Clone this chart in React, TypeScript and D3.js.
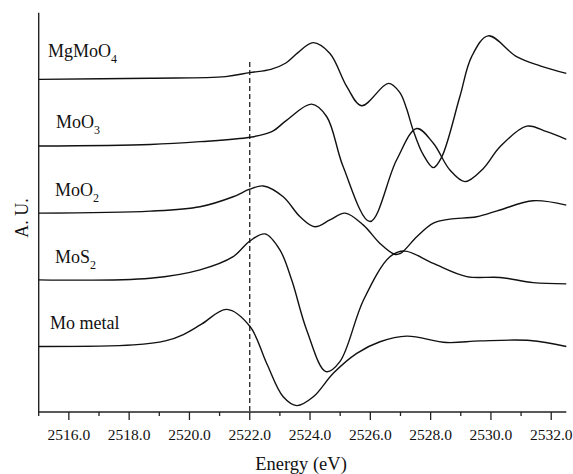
import React, { useEffect, useRef } from "react";
import * as d3 from "d3";

// Energy (eV) / intensity (A.U., offset stacked)
const mgMoO4Energy = [2515.0, 2518.7, 2521.2, 2522.0, 2522.7, 2523.2, 2523.6, 2524.1, 2524.66, 2525.22, 2525.71, 2526.6, 2526.98, 2527.2, 2527.42, 2527.75, 2528.09, 2528.37, 2528.97, 2529.36, 2529.91, 2530.85, 2531.63, 2532.5];
const mgMoO4Values = [83.3, 83.6, 84.0, 85.0, 85.8, 87.4, 90.0, 92.5, 89.8, 81.5, 76.7, 82.3, 80.0, 76.0, 70.6, 64.5, 61.2, 63.9, 79.0, 89.0, 94.2, 89.0, 86.7, 84.8];

const moO3Energy = [2515.0, 2518.7, 2520.35, 2522.0, 2522.73, 2523.23, 2524.05, 2524.55, 2525.1, 2525.99, 2526.87, 2527.54, 2528.09, 2528.64, 2529.14, 2529.75, 2530.3, 2531.19, 2531.85, 2532.5];
const moO3Values = [66.6, 67.0, 67.7, 68.8, 70.2, 73.1, 77.1, 74.0, 61.4, 47.7, 63.1, 71.0, 67.3, 60.6, 57.7, 61.0, 66.4, 71.6, 70.2, 68.3];

const moO2Energy = [2515.0, 2518.7, 2520.35, 2521.45, 2522.0, 2522.45, 2523.11, 2523.67, 2524.16, 2524.66, 2525.16, 2525.77, 2526.32, 2526.8, 2527.0, 2527.54, 2528.09, 2528.64, 2529.53, 2530.3, 2531.4, 2532.5];
const moO2Values = [49.8, 50.3, 51.4, 53.9, 55.8, 56.6, 53.9, 48.9, 46.4, 48.1, 49.8, 46.8, 42.2, 39.5, 39.7, 43.9, 47.3, 48.3, 48.9, 50.6, 52.9, 51.8];

const moS2Energy = [2515.0, 2518.7, 2520.35, 2521.45, 2522.0, 2522.51, 2523.0, 2523.39, 2523.89, 2524.53, 2524.99, 2525.77, 2526.65, 2527.15, 2528.09, 2529.2, 2530.3, 2531.4, 2532.5];
const moS2Values = [33.1, 33.5, 35.6, 38.9, 42.8, 44.6, 40.6, 33.1, 20.5, 10.1, 12.6, 28.0, 38.9, 40.3, 37.2, 33.9, 33.7, 32.4, 32.1];

const moMetalEnergy = [2515.0, 2518.14, 2519.2, 2519.8, 2520.4, 2521.24, 2522.01, 2522.56, 2523.11, 2523.56, 2524.11, 2524.77, 2525.55, 2526.32, 2527.21, 2528.53, 2529.64, 2531.3, 2532.5];
const moMetalValues = [16.4, 16.8, 17.8, 19.4, 22.0, 25.7, 21.4, 12.2, 3.8, 1.6, 3.8, 9.7, 14.7, 17.6, 19.0, 17.4, 17.8, 17.9, 16.4];

const seriesNames = ["MgMoO4", "MoO3", "MoO2", "MoS2", "Mo metal"];
const labelBase = ["MgMoO", "MoO", "MoO", "MoS", "Mo metal"];
const labelSub = ["4", "3", "2", "2", ""];
const labelX = [48, 56, 55, 55, 50];
const labelY = [57, 128, 196, 263, 329];

const majorTicks = [2516, 2518, 2520, 2522, 2524, 2526, 2528, 2530, 2532];
const minorTicks = [2515, 2517, 2519, 2521, 2523, 2525, 2527, 2529, 2531];
const edgeEnergy = 2522.0;

const App = () => {
  const svgRef = useRef<SVGSVGElement>(null);

  useEffect(() => {
    if (!svgRef.current) return;
    const svg = d3.select(svgRef.current);
    svg.selectAll("*").remove();

    const width = 573;
    const height = 474;
    const font = "'Liberation Serif', 'Times New Roman', serif";

    const x = d3.scaleLinear().domain([2515, 2532.5]).range([38.7, 566.3]);
    const y = d3.scaleLinear().domain([0, 100]).range([412, 12.7]);

    svg.attr("width", width).attr("height", height);

    // axes
    svg.append("line")
      .attr("x1", x(2515)).attr("x2", x(2515))
      .attr("y1", y(100)).attr("y2", y(0))
      .attr("stroke", "#222").attr("stroke-width", 1.4);
    svg.append("line")
      .attr("x1", x(2515) - 0.7).attr("x2", x(2532.5))
      .attr("y1", y(0)).attr("y2", y(0))
      .attr("stroke", "#222").attr("stroke-width", 1.6);

    svg.selectAll(".major")
      .data(majorTicks)
      .enter().append("line")
      .attr("x1", d => x(d)).attr("x2", d => x(d))
      .attr("y1", y(0)).attr("y2", y(0) + 8)
      .attr("stroke", "#222").attr("stroke-width", 1.3);
    svg.selectAll(".minor")
      .data(minorTicks)
      .enter().append("line")
      .attr("x1", d => x(d)).attr("x2", d => x(d))
      .attr("y1", y(0)).attr("y2", y(0) + 4)
      .attr("stroke", "#222").attr("stroke-width", 1.3);

    svg.selectAll(".ticklabel")
      .data(majorTicks)
      .enter().append("text")
      .attr("x", d => x(d)).attr("y", 439.5)
      .attr("text-anchor", "middle")
      .attr("font-family", font).attr("font-size", 15.5)
      .attr("fill", "#111")
      .text(d => d.toFixed(1));

    svg.append("text")
      .attr("x", 301).attr("y", 470)
      .attr("text-anchor", "middle")
      .attr("font-family", font).attr("font-size", 18.5)
      .attr("fill", "#111")
      .text("Energy (eV)");

    svg.append("text")
      .attr("transform", "translate(28, 218) rotate(-90)")
      .attr("text-anchor", "middle")
      .attr("font-family", font).attr("font-size", 18)
      .attr("fill", "#111")
      .text("A. U.");

    // dashed edge marker
    svg.append("line")
      .attr("x1", x(edgeEnergy)).attr("x2", x(edgeEnergy))
      .attr("y1", 62).attr("y2", y(0))
      .attr("stroke", "#222").attr("stroke-width", 1.3)
      .attr("stroke-dasharray", "5,3");

    const allEnergy = [mgMoO4Energy, moO3Energy, moO2Energy, moS2Energy, moMetalEnergy];
    const allValues = [mgMoO4Values, moO3Values, moO2Values, moS2Values, moMetalValues];

    const line = d3.line<[number, number]>()
      .x(d => x(d[0]))
      .y(d => y(d[1]))
      .curve(d3.curveCatmullRom.alpha(0.5));

    seriesNames.forEach((name, i) => {
      const pts = allEnergy[i].map((e, j) => [e, allValues[i][j]] as [number, number]);
      svg.append("path")
        .datum(pts)
        .attr("class", "spectrum")
        .attr("data-name", name)
        .attr("fill", "none")
        .attr("stroke", "#111")
        .attr("stroke-width", 1.4)
        .attr("d", line);

      const t = svg.append("text")
        .attr("x", labelX[i]).attr("y", labelY[i])
        .attr("font-family", font).attr("font-size", 18)
        .attr("fill", "#111");
      t.append("tspan").text(labelBase[i]);
      if (labelSub[i]) {
        t.append("tspan").attr("font-size", 12).attr("dy", 6).text(labelSub[i]);
      }
    });
  }, []);

  return (
    <svg
      ref={svgRef}
      style={{ position: "absolute", left: 0, top: 0, background: "#fff" }}
    ></svg>
  );
};

export default App;
